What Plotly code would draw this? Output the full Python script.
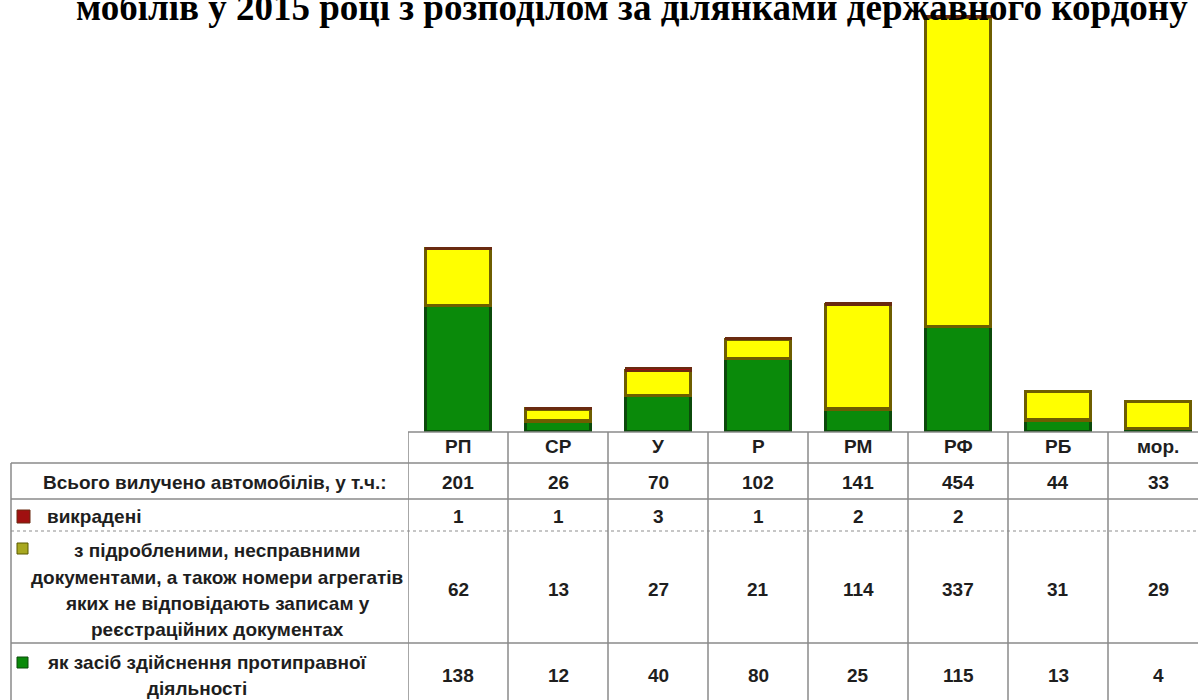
import plotly.graph_objects as go

# ---------------- data ----------------
categories = ['РП', 'СР', 'У', 'Р', 'РМ', 'РФ', 'РБ', 'мор.']
total_seized = [201, 26, 70, 102, 141, 454, 44, 33]
stolen = [1, 1, 3, 1, 2, 2, None, None]
forged_docs = [62, 13, 27, 21, 114, 337, 31, 29]
illegal_use = [138, 12, 40, 80, 25, 115, 13, 4]

title_text = 'мобілів у 2015 році з розподілом за ділянками державного кордону'
row_total_label = 'Всього вилучено автомобілів, у т.ч.:'
row_stolen_label = 'викрадені'
row_forged_lines = ['з підробленими, несправними',
                    'документами, а також номери агрегатів',
                    'яких не відповідають записам у',
                    'реєстраційних документах']
row_illegal_lines = ['як засіб здійснення протиправної', 'діяльності']

# ---------------- geometry (pixels) ----------------
W, H = 1198, 700
PLOT_LEFT, PLOT_BOTTOM = 408, 432
Y_MAX = 471

def px(x):
    return x / W

def py(y):
    return 1 - y / H

YELLOW, YELLOW_EDGE = '#FFFF00', '#6E5E00'
GREEN, GREEN_EDGE = '#0A8A0A', '#0B4A0B'
RED, RED_EDGE = '#A01010', '#6A2A10'

fig = go.Figure()
fig.add_trace(go.Bar(x=categories, y=illegal_use, name='як засіб здійснення протиправної діяльності',
                     marker=dict(color=GREEN, line=dict(color=GREEN_EDGE, width=3.5)), width=0.65))
fig.add_trace(go.Bar(x=categories, y=forged_docs, name='з підробленими документами',
                     marker=dict(color=YELLOW, line=dict(color=YELLOW_EDGE, width=3.5)), width=0.65))
fig.add_trace(go.Bar(x=categories, y=stolen, name='викрадені',
                     marker=dict(color=RED, line=dict(color=RED_EDGE, width=2)), width=0.65))

TABLE_FONT = dict(family='Liberation Sans Narrow, Arial Narrow, Liberation Sans, Arial', size=19, color='#1e1e1e', weight='bold')
GRID = '#8a8a8a'

shapes = []
annotations = []

# horizontal table lines
shapes.append(dict(type='line', xref='paper', yref='paper', x0=px(PLOT_LEFT), x1=1, y0=py(PLOT_BOTTOM), y1=py(PLOT_BOTTOM), line=dict(color=GRID, width=1.5)))
for yy, col, dash in [(463, GRID, 'solid'), (499, GRID, 'solid'), (531, '#b4b4b4', 'dot'), (643, GRID, 'solid')]:
    shapes.append(dict(type='line', xref='paper', yref='paper', x0=px(11), x1=1, y0=py(yy), y1=py(yy), line=dict(color=col, width=1.5, dash=dash)))
# vertical lines
shapes.append(dict(type='line', xref='paper', yref='paper', x0=px(11), x1=px(11), y0=py(463), y1=py(H + 5), line=dict(color=GRID, width=1.5)))
for i in range(len(categories)):
    shapes.append(dict(type='line', xref='x', yref='paper', x0=i - 0.5, x1=i - 0.5, y0=py(PLOT_BOTTOM), y1=py(H + 5), line=dict(color=GRID, width=1.5)))

# legend keys
for (y0, y1, c, e) in [(510, 523, RED, RED_EDGE), (543, 554, '#A8A820', '#5A5A00'), (657, 668, GREEN, GREEN_EDGE)]:
    shapes.append(dict(type='rect', xref='paper', yref='paper', x0=px(17), x1=px(17 + (y1 - y0)), y0=py(y1), y1=py(y0), fillcolor=c, line=dict(color=e, width=1)))

def label(text, x, y, anchor='center'):
    annotations.append(dict(text=text, xref='paper', yref='paper', x=px(x), y=py(y), xanchor=anchor, yanchor='middle',
                            showarrow=False, font=TABLE_FONT))

label(row_total_label, 215, 482)
label(row_stolen_label, 45, 516, 'left')
for t, yy in zip(row_forged_lines, [550, 577, 603, 629]):
    label(t, 217, yy)
label(row_illegal_lines[0], 45, 662, 'left')
label(row_illegal_lines[1], 197, 688)

# header + values
rows = [(categories, 446), (total_seized, 482), (stolen, 516), (forged_docs, 589), (illegal_use, 675)]
for vals, yy in rows:
    for cat, v in zip(categories, vals):
        if v is None:
            continue
        annotations.append(dict(text=str(v), xref='x', yref='paper', x=cat, y=py(yy), xanchor='center', yanchor='middle',
                                showarrow=False, font=TABLE_FONT))

# title (cut at top as in source)
annotations.append(dict(text=title_text, xref='paper', yref='paper', x=px(632), y=py(7), xanchor='center', yanchor='middle',
                        showarrow=False, font=dict(family='Liberation Serif, Times New Roman, serif', size=37, color='black', weight='bold')))

fig.update_layout(
    width=W, height=H,
    margin=dict(l=0, r=0, t=0, b=0),
    paper_bgcolor='white', plot_bgcolor='white',
    barmode='stack', showlegend=False,
    xaxis=dict(domain=[px(PLOT_LEFT), 1], range=[-0.5, -0.5 + (W - PLOT_LEFT) / 100], visible=False, type='category'),
    yaxis=dict(domain=[py(PLOT_BOTTOM), 1], range=[0, Y_MAX], visible=False),
    shapes=shapes, annotations=annotations,
)

fig.write_html('out.html', config={'displayModeBar': False},
               post_script="document.body.style.margin='0';document.body.style.overflow='hidden';")
